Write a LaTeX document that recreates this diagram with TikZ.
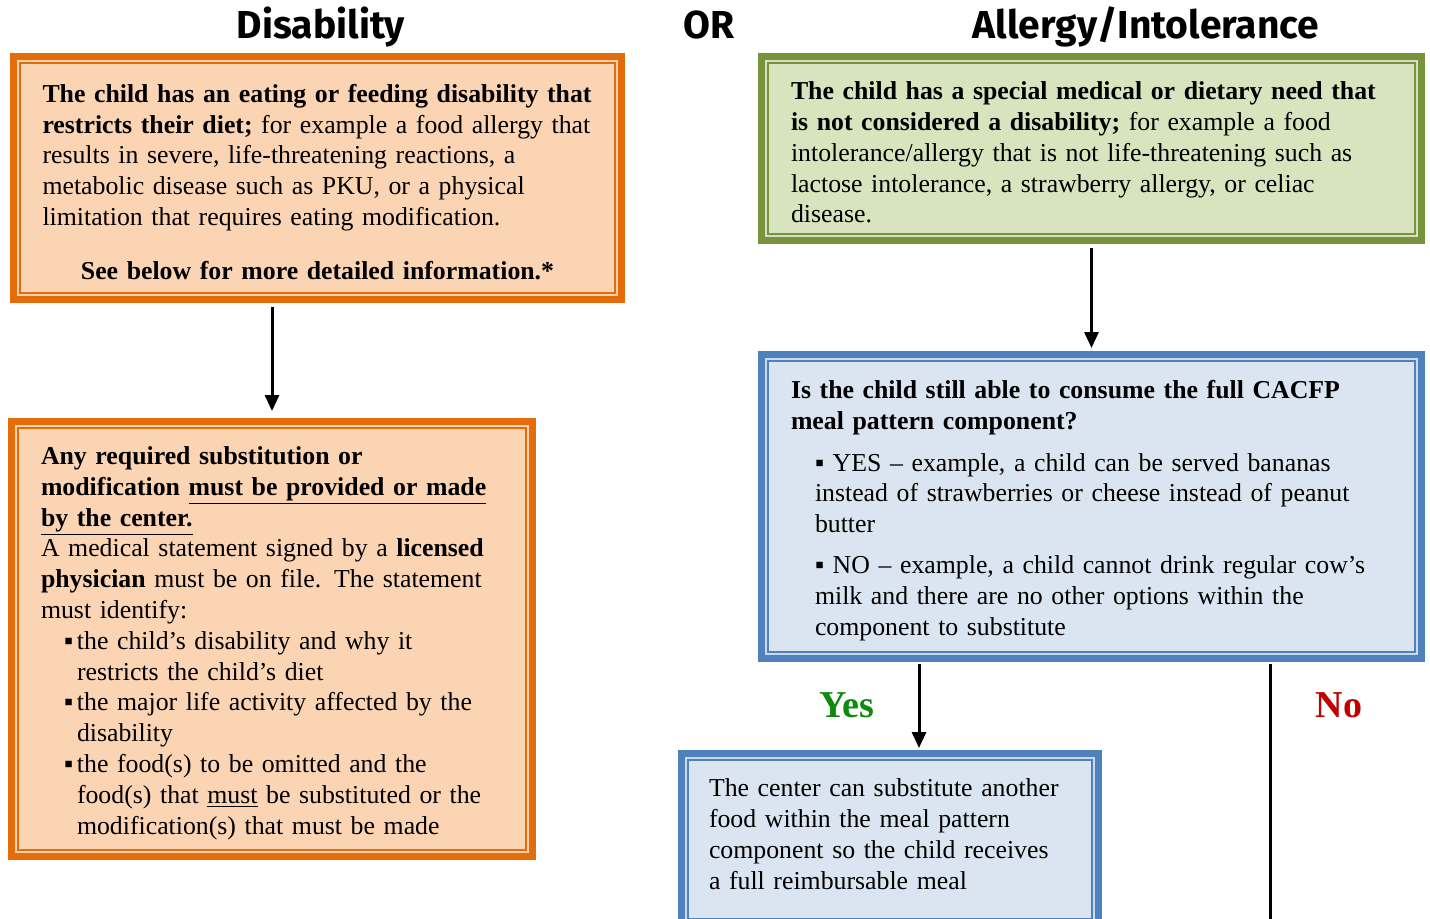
\documentclass[tikz,border=0pt]{standalone}
\usepackage{fontspec}
\setmainfont{Liberation Serif}
\newfontfamily\headfont{Fira Sans}
\usepackage{xcolor}
\usetikzlibrary{arrows.meta, positioning}

\definecolor{orgline}{HTML}{E46C0A}
\definecolor{orgfill}{HTML}{FBD4B4}
\definecolor{grnline}{HTML}{77933C}
\definecolor{grnfill}{HTML}{D7E4BD}
\definecolor{bluline}{HTML}{4F81BD}
\definecolor{blufill}{HTML}{DBE5F1}
\definecolor{yesgreen}{HTML}{0E8A0E}
\definecolor{nored}{HTML}{C00000}

\newcommand{\sqbul}{\makebox[6.5pt][l]{▪}}

\begin{document}
\begin{tikzpicture}[x=0.5pt, y=-0.5pt,
    every node/.style={font=\fontsize{12.9}{15.4}\selectfont},
    orgbox/.style={rectangle, draw=orgline, fill=orgfill, line width=3.5pt, align=left, inner sep=0pt, outer sep=0pt, text height=13pt},
    grnbox/.style={rectangle, draw=grnline, fill=grnfill, line width=3.5pt, align=left, inner sep=0pt, outer sep=0pt, text height=13pt},
    blubox/.style={rectangle, draw=bluline, fill=blufill, line width=3.5pt, align=left, inner sep=0pt, outer sep=0pt, text height=13pt},
    head/.style={font=\headfont\bfseries\fontsize{19.5}{24}\selectfont, anchor=base},
    answer/.style={font=\bfseries\fontsize{19}{22}\selectfont, anchor=base},
    line/.style={draw, line width=1.5pt, -{Triangle[width=7pt,length=8pt]}}
]
\useasboundingbox (0,0) rectangle (1430,918);
\clip (0,0) rectangle (1430,918);

% Headings
\node [head] (hdis) at (321,38) {Disability};
\node [head] (hor) at (709,38) {OR};
\node [head] (halg) at (1146,38) {Allergy/Intolerance};

% Disability side
\node [orgbox, minimum width=304pt, minimum height=121.5pt, text width=275pt] (dis) at (317.5,178) {%
\textbf{The child has an eating or feeding disability that}\\
\textbf{restricts their diet;} for example a food allergy that\\
results in severe, life-threatening reactions, a\\
metabolic disease such as PKU, or a physical\\
limitation that requires eating modification.\\[11.5pt]
\makebox[\linewidth]{\textbf{See below for more detailed information.*}}};

\node [orgbox, minimum width=260.5pt, minimum height=217.5pt, text width=231pt] (sub) at (272,639) {%
\textbf{Any required substitution or}\\
\textbf{modification \underline{must be provided or made}}\\
\textbf{\underline{by the center.}}\\
A medical statement signed by a \textbf{licensed}\\
\textbf{physician} must be on file. The statement\\
must identify:\\
\hspace*{11.5pt}\sqbul the child's disability and why it\\
\hspace*{18pt}restricts the child's diet\\
\hspace*{11.5pt}\sqbul the major life activity affected by the\\
\hspace*{18pt}disability\\
\hspace*{11.5pt}\sqbul the food(s) to be omitted and the\\
\hspace*{18pt}food(s) that \underline{must} be substituted or the\\
\hspace*{18pt}modification(s) that must be made};

% Allergy side
\node [grnbox, minimum width=330pt, minimum height=92pt, text width=300.5pt] (alg) at (1091.5,148.5) {%
\textbf{The child has a special medical or dietary need that}\\
\textbf{is not considered a disability;} for example a food\\
intolerance/allergy that is not life-threatening such as\\
lactose intolerance, a strawberry allergy, or celiac\\
disease.};

\node [blubox, minimum width=330pt, minimum height=152pt, text width=300.5pt] (quest) at (1091.5,506.5) {%
\textbf{Is the child still able to consume the full CACFP}\\
\textbf{meal pattern component?}\\[5.5pt]
\hspace*{12pt}▪ YES -- example, a child can be served bananas\\
\hspace*{12pt}instead of strawberries or cheese instead of peanut\\
\hspace*{12pt}butter\\[5pt]
\hspace*{12pt}▪ NO -- example, a child cannot drink regular cow's\\
\hspace*{12pt}milk and there are no other options within the\\
\hspace*{12pt}component to substitute};

\node [blubox, anchor=north, minimum width=208.5pt, text width=181pt, inner ysep=8.6pt, text depth=56pt] (cen) at (890,753.5) {%
The center can substitute another\\
food within the meal pattern\\
component so the child receives\\
a full reimbursable meal};

% Inner frames
\foreach \n/\c in {dis/orgline, sub/orgline, alg/grnline, quest/bluline, cen/bluline} {
  \draw [\c!30!white, line width=1pt] ([shift={(2.25pt,-2.25pt)}]\n.north west) rectangle ([shift={(-2.25pt,2.25pt)}]\n.south east);
  \draw [\c, line width=1pt] ([shift={(3.25pt,-3.25pt)}]\n.north west) rectangle ([shift={(-3.25pt,3.25pt)}]\n.south east);
}

% Answers
\node [answer, text=yesgreen] (yes) at (847,717) {Yes};
\node [answer, text=nored] (no) at (1339,717) {No};
\coordinate (noend) at (1270,930);

% Connections
\draw [line, shorten <=3.75pt, shorten >=5.25pt] (sub.north |- dis.south) -- (sub.north);
\draw [line, shorten <=3.75pt, shorten >=3.25pt] (alg) -- (quest);
\draw [line, shorten <=2.75pt, shorten >=2.75pt] ([xshift=14.5pt]cen.north |- quest.south) -- ([xshift=14.5pt]cen.north);
\draw [line width=1.5pt, shorten <=2.75pt] (quest.south -| noend) -- (noend);

\end{tikzpicture}
\end{document}
